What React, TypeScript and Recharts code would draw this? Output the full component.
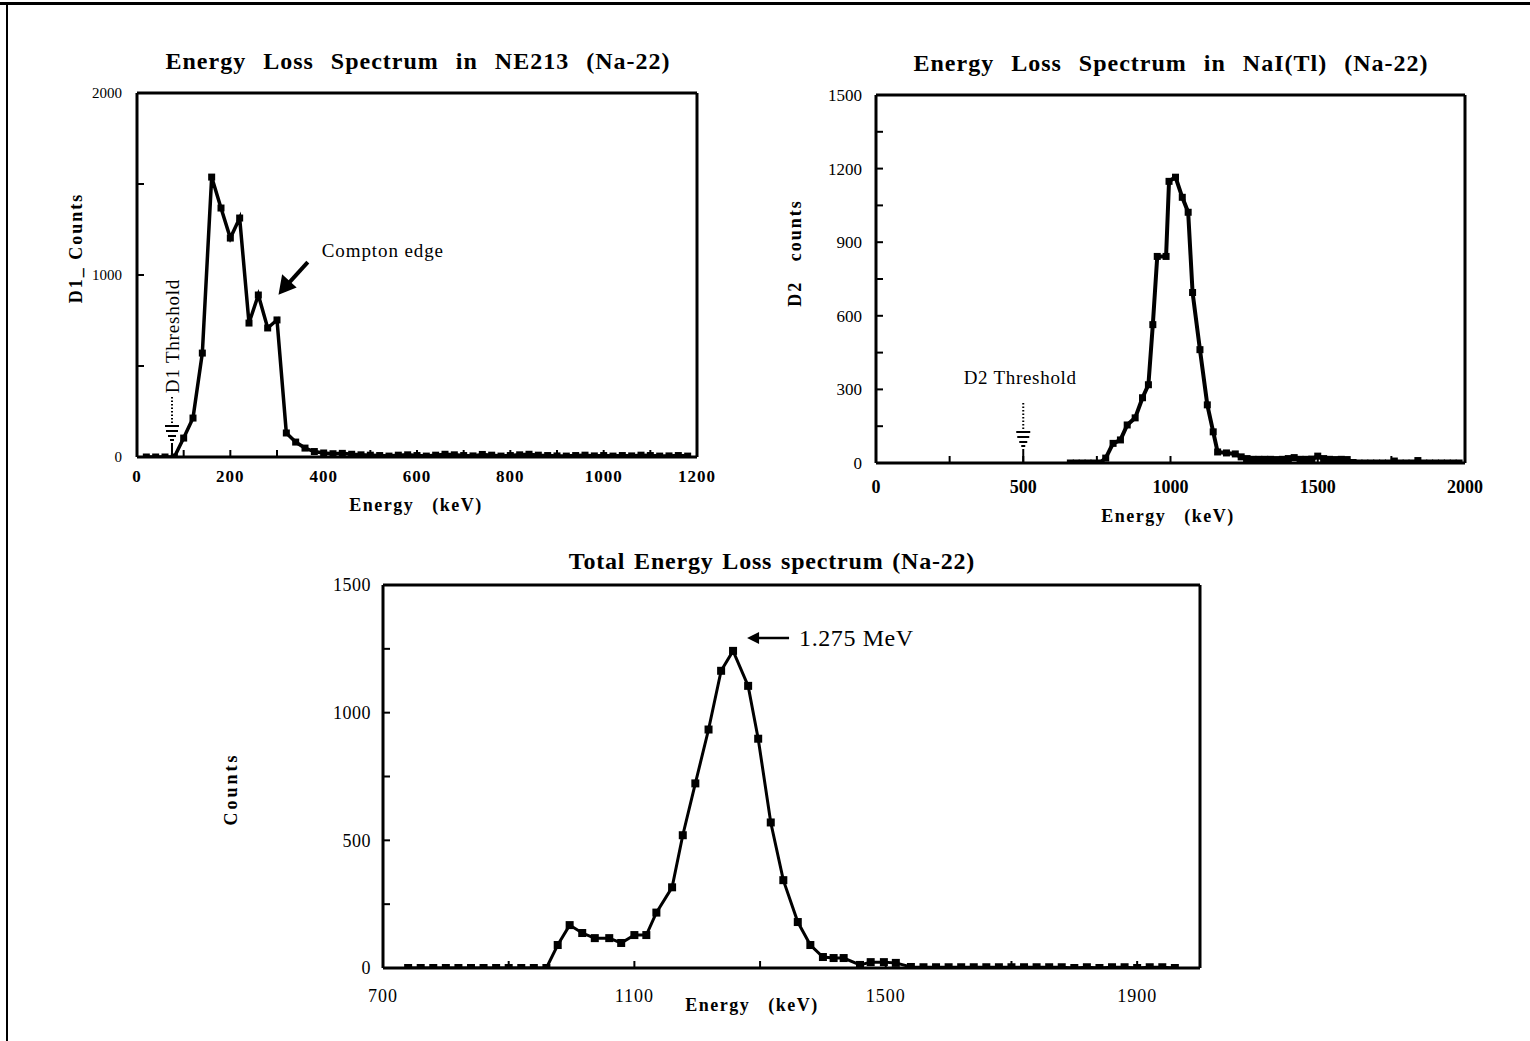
import React from 'react';
import { LineChart, Line, XAxis, YAxis, ReferenceDot } from 'recharts';

const SERIF = '"Liberation Serif", "Times New Roman", Times, serif';

// ---------- Chart 1: NE213 ----------
const ne213Energy = [20, 40, 60, 80, 100, 120, 140, 160, 180, 200, 220, 240, 260, 280, 300, 320, 340, 360,
  380, 400, 420, 440, 460, 480, 500, 520, 540, 560, 580, 600, 620, 640, 660, 680, 700, 720, 740, 760, 780,
  800, 820, 840, 860, 880, 900, 920, 940, 960, 980, 1000, 1020, 1040, 1060, 1080, 1100, 1120, 1140, 1160, 1180];
const ne213Counts = [0, 0, 0, 0, 104, 214, 571, 1538, 1368, 1203, 1313, 736, 890, 709, 753, 132, 82, 49,
  30, 22, 18, 20, 15, 12, 10, 8, 5, 10, 12, 8, 5, 10, 15, 12, 8, 6, 14, 10, 5,
  8, 12, 15, 10, 8, 6, 5, 8, 10, 6, 8, 5, 8, 6, 10, 8, 5, 6, 8, 5];
const ne213XTicks = [0, 100, 200, 300, 400, 500, 600, 700, 800, 900, 1000, 1100, 1200];
const ne213XLabels = [0, 200, 400, 600, 800, 1000, 1200];
const ne213YTicks = [0, 500, 1000, 1500, 2000];
const ne213YLabels = [0, 1000, 2000];

// ---------- Chart 2: NaI(Tl) ----------
const naiEnergy = [660, 680, 700, 720, 740, 760, 780, 805, 830, 853, 880, 905, 925, 940, 955, 985, 995, 1017,
  1040, 1060, 1075, 1100, 1125, 1145, 1160, 1190, 1220, 1240, 1260, 1280, 1300, 1320, 1340, 1360, 1380, 1400,
  1420, 1440, 1460, 1480, 1500, 1520, 1540, 1560, 1580, 1600, 1620, 1640, 1660, 1680, 1700, 1720, 1740, 1760,
  1780, 1800, 1820, 1840, 1860, 1880, 1900, 1920, 1940, 1960, 1980];
const naiCounts = [0, 0, 0, 0, 0, 0, 20, 80, 94, 155, 184, 266, 319, 564, 842, 842, 1148, 1165,
  1083, 1022, 695, 462, 237, 127, 45, 41, 37, 25, 18, 15, 15, 15, 15, 14, 15, 18,
  22, 15, 15, 16, 28, 18, 15, 14, 15, 14, 2, 0, 0, 0, 0, 0, 0, 8,
  0, 0, 0, 10, 0, 0, 0, 0, 0, 0, 0];
const naiXTicks = [0, 250, 500, 750, 1000, 1250, 1500, 1750, 2000];
const naiXLabels = [0, 500, 1000, 1500, 2000];
const naiYTicks = [0, 150, 300, 450, 600, 750, 900, 1050, 1200, 1350, 1500];
const naiYLabels = [0, 300, 600, 900, 1200, 1500];

// ---------- Chart 3: Total ----------
const totEnergy = [740, 760, 780, 800, 820, 840, 860, 880, 900, 920, 940, 960, 978, 997, 1017, 1037, 1060, 1079,
  1100, 1119, 1135, 1160, 1177, 1197, 1218, 1238, 1257, 1281, 1297, 1317, 1337, 1360, 1380, 1400, 1417, 1433,
  1459, 1476, 1497, 1516, 1540, 1560, 1580, 1600, 1620, 1640, 1660, 1680, 1700, 1720, 1740, 1760, 1780, 1800,
  1820, 1840, 1860, 1880, 1900, 1920, 1940, 1960];
const totCounts = [0, 0, 0, 0, 0, 0, 0, 0, 0, 0, 0, 0, 90, 168, 137, 117, 117, 98,
  129, 129, 217, 316, 520, 723, 934, 1164, 1242, 1105, 898, 570, 344, 180, 90, 43, 39, 39,
  12, 23, 23, 20, 4, 3, 3, 3, 3, 3, 3, 3, 3, 3, 3, 3, 3, 0,
  3, 0, 3, 3, 0, 3, 3, 0];
const totXTicks = [700, 900, 1100, 1300, 1500, 1700, 1900];
const totXLabels = [700, 1100, 1500, 1900];
const totYTicks = [0, 250, 500, 750, 1000, 1250, 1500];
const totYLabels = [0, 500, 1000, 1500];

const ne213Data = ne213Energy.map((e, i) => ({ e, v: ne213Counts[i] }));
const naiData = naiEnergy.map((e, i) => ({ e, v: naiCounts[i] }));
const totData = totEnergy.map((e, i) => ({ e, v: totCounts[i] }));

const AXIS_LINE = { stroke: '#000', strokeWidth: 3 };
const TICK_LINE = { stroke: '#000', strokeWidth: 2 };

const squareDot = (size: number) => (p: any) => (
  <rect key={`d-${p.index}`} x={p.cx - size / 2} y={p.cy - size / 2} width={size} height={size} fill="#000" />
);

const fmt = (labels: number[]) => (v: number) => (labels.includes(v) ? String(v) : '');

// Threshold "ground" symbol drawn upward from the axis at (cx, cy)
const thresholdShape = (p: any) => {
  const { cx, cy } = p;
  return (
    <g>
      <line x1={cx} y1={cy - 60} x2={cx} y2={cy - 34} stroke="#000" strokeWidth={2} strokeDasharray="1.5 2" />
      <line x1={cx - 7} y1={cy - 31} x2={cx + 7} y2={cy - 31} stroke="#000" strokeWidth={2} />
      <line x1={cx - 6} y1={cy - 26} x2={cx + 6} y2={cy - 26} stroke="#000" strokeWidth={2} />
      <line x1={cx - 4} y1={cy - 21} x2={cx + 4} y2={cy - 21} stroke="#000" strokeWidth={2} />
      <line x1={cx - 2} y1={cy - 17} x2={cx + 2} y2={cy - 17} stroke="#000" strokeWidth={2} />
      <line x1={cx} y1={cy - 14} x2={cx} y2={cy} stroke="#000" strokeWidth={2} />
    </g>
  );
};

const d1ThresholdShape = (p: any) => {
  const { cx, cy } = p;
  return (
    <g>
      {thresholdShape(p)}
      <text x={cx} y={cy - 121} transform={`rotate(-90 ${cx} ${cy - 121})`} textAnchor="middle" dominantBaseline="central"
        fontFamily={SERIF} fontSize={19} letterSpacing={0.8} fill="#000">D1 Threshold</text>
    </g>
  );
};

const d2ThresholdShape = (p: any) => {
  const { cx, cy } = p;
  return (
    <g>
      {thresholdShape(p)}
      <text x={cx - 3} y={cy - 79} textAnchor="middle" fontFamily={SERIF} fontSize={19} letterSpacing={0.7} fill="#000">D2 Threshold</text>
    </g>
  );
};

const comptonShape = (p: any) => {
  const { cx, cy } = p;
  // arrow tip at (cx, cy), pointing down-left
  return (
    <g>
      <line x1={cx + 8} y1={cy - 9} x2={cx + 28} y2={cy - 31} stroke="#000" strokeWidth={4} />
      <polygon points={`${cx},${cy} ${cx + 3},${cy - 17} ${cx + 15},${cy - 6}`} fill="#000" stroke="#000" strokeWidth={2} />
      <text x={cx + 42} y={cy - 36} fontFamily={SERIF} fontSize={19} letterSpacing={0.9} fill="#000">Compton edge</text>
    </g>
  );
};

const peakShape = (p: any) => {
  const { cx, cy } = p;
  return (
    <g>
      <line x1={cx + 20} y1={cy - 13} x2={cx + 56} y2={cy - 13} stroke="#000" strokeWidth={2.5} />
      <polygon points={`${cx + 14},${cy - 13} ${cx + 26},${cy - 19} ${cx + 26},${cy - 7}`} fill="#000" />
      <text x={cx + 66} y={cy - 5} fontFamily={SERIF} fontSize={24} letterSpacing={0.6} fill="#000">1.275 MeV</text>
    </g>
  );
};

const Txt = ({ x, y, size, weight = 700, rotate = 0, spacing = 0, word = 0, children }: any) => (
  <div
    style={{
      position: 'absolute', left: x, top: y, transform: `translate(-50%, -50%) rotate(${rotate}deg)`,
      fontFamily: SERIF, fontSize: size, fontWeight: weight, letterSpacing: spacing, wordSpacing: word,
      whiteSpace: 'pre', lineHeight: 1, color: '#000',
    }}
  >
    {children}
  </div>
);

const frameAxes = (xTicks: number[], yTicks: number[], xDomain: number[], yDomain: number[]) => [
  <XAxis key="xt" xAxisId="top" orientation="top" type="number" dataKey="e" domain={xDomain} allowDataOverflow
    ticks={xTicks} interval={0} height={1} tickSize={-7} tick={false} axisLine={AXIS_LINE} tickLine={TICK_LINE} />,
  <YAxis key="yr" yAxisId="right" orientation="right" type="number" dataKey="v" domain={yDomain} allowDataOverflow
    ticks={yTicks} interval={0} width={1} tickSize={-7} tick={false} axisLine={AXIS_LINE} tickLine={TICK_LINE} />,
  <Line key="frame-line" xAxisId="top" yAxisId="right" type="linear" dataKey="v" stroke="none" dot={false}
    activeDot={false} legendType="none" isAnimationActive={false} />,
];

export default function App() {
  return (
    <div style={{ position: 'absolute', left: 0, top: 0, width: 1530, height: 1041, background: '#fff', overflow: 'hidden' }}>
      {/* page frame */}
      <div style={{ position: 'absolute', left: 0, top: 2, width: 1530, height: 0, borderTop: '3px solid #000' }} />
      <div style={{ position: 'absolute', left: 6, top: 2, width: 0, height: 1039, borderLeft: '2px solid #000' }} />

      {/* Chart 1 */}
      <div style={{ position: 'absolute', left: 0, top: 0 }}>
        <LineChart width={770} height={540} data={ne213Data} margin={{ top: 92, right: 72, bottom: 43, left: 77 }}>
          <XAxis type="number" dataKey="e" domain={[0, 1200]} allowDataOverflow ticks={ne213XTicks} interval={0}
            tickFormatter={fmt(ne213XLabels)} height={40} tickSize={-7} tickMargin={20}
            axisLine={AXIS_LINE} tickLine={TICK_LINE}
            tick={{ fill: '#000', fontFamily: SERIF, fontSize: 17, fontWeight: 700, letterSpacing: 1 }} />
          <YAxis type="number" dataKey="v" domain={[0, 2000]} allowDataOverflow ticks={ne213YTicks} interval={0}
            tickFormatter={fmt(ne213YLabels)} width={60} tickSize={-7} tickMargin={22}
            axisLine={AXIS_LINE} tickLine={TICK_LINE}
            tick={{ fill: '#000', fontFamily: SERIF, fontSize: 15, fontWeight: 400 }} />
          {frameAxes(ne213XTicks, ne213YTicks, [0, 1200], [0, 2000])}
          <Line type="linear" dataKey="v" stroke="#000" strokeWidth={3.5} dot={squareDot(7)} isAnimationActive={false} />
          <ReferenceDot x={75} y={0} shape={d1ThresholdShape} />
          <ReferenceDot x={306} y={900} shape={comptonShape} />
        </LineChart>
      </div>

      {/* Chart 2 */}
      <div style={{ position: 'absolute', left: 760, top: 0 }}>
        <LineChart width={770} height={540} data={naiData} margin={{ top: 94, right: 64, bottom: 37, left: 56 }}>
          <XAxis type="number" dataKey="e" domain={[0, 2000]} allowDataOverflow ticks={naiXTicks} interval={0}
            tickFormatter={fmt(naiXLabels)} height={40} tickSize={-7} tickMargin={24}
            axisLine={AXIS_LINE} tickLine={TICK_LINE}
            tick={{ fill: '#000', fontFamily: SERIF, fontSize: 18, fontWeight: 700 }} />
          <YAxis type="number" dataKey="v" domain={[0, 1500]} allowDataOverflow ticks={naiYTicks} interval={0}
            tickFormatter={fmt(naiYLabels)} width={60} tickSize={-7} tickMargin={21}
            axisLine={AXIS_LINE} tickLine={TICK_LINE}
            tick={{ fill: '#000', fontFamily: SERIF, fontSize: 17, fontWeight: 400 }} />
          {frameAxes(naiXTicks, naiYTicks, [0, 2000], [0, 1500])}
          <Line type="linear" dataKey="v" stroke="#000" strokeWidth={4} dot={squareDot(7)} isAnimationActive={false} />
          <ReferenceDot x={500} y={0} shape={d2ThresholdShape} />
        </LineChart>
      </div>

      {/* Chart 3 */}
      <div style={{ position: 'absolute', left: 0, top: 530 }}>
        <LineChart width={1300} height={511} data={totData} margin={{ top: 54, right: 99, bottom: 33, left: 323 }}>
          <XAxis type="number" dataKey="e" domain={[700, 2000]} allowDataOverflow ticks={totXTicks} interval={0}
            tickFormatter={fmt(totXLabels)} height={40} tickSize={-7} tickMargin={28}
            axisLine={AXIS_LINE} tickLine={TICK_LINE}
            tick={{ fill: '#000', fontFamily: SERIF, fontSize: 18, fontWeight: 400, letterSpacing: 1 }} />
          <YAxis type="number" dataKey="v" domain={[0, 1500]} allowDataOverflow ticks={totYTicks} interval={0}
            tickFormatter={fmt(totYLabels)} width={60} tickSize={-7} tickMargin={19}
            axisLine={AXIS_LINE} tickLine={TICK_LINE}
            tick={{ fill: '#000', fontFamily: SERIF, fontSize: 18, fontWeight: 400, letterSpacing: 0.5 }} />
          {frameAxes(totXTicks, totYTicks, [700, 2000], [0, 1500])}
          <Line type="linear" dataKey="v" stroke="#000" strokeWidth={3} dot={squareDot(8)} isAnimationActive={false} />
          <ReferenceDot x={1257} y={1242} shape={peakShape} />
        </LineChart>
      </div>

      {/* Titles */}
      <Txt x={418} y={61} size={24} spacing={1} word={10}>Energy Loss Spectrum in NE213 (Na-22)</Txt>
      <Txt x={1171} y={63} size={24} spacing={1} word={10}>Energy Loss Spectrum in NaI(Tl) (Na-22)</Txt>
      <Txt x={772} y={561} size={24} spacing={0.8} word={2}>Total Energy Loss spectrum (Na-22)</Txt>

      {/* Axis titles */}
      <Txt x={76} y={248} size={18} rotate={-90} spacing={2}>{'D1_ Counts'}</Txt>
      <Txt x={416} y={505} size={18} spacing={1.5}>{'Energy   (keV)'}</Txt>
      <Txt x={795} y={253} size={18} rotate={-90} spacing={2}>{'D2   counts'}</Txt>
      <Txt x={1168} y={516} size={18} spacing={1.5}>{'Energy   (keV)'}</Txt>
      <Txt x={231} y={789} size={18} rotate={-90} spacing={3}>Counts</Txt>
      <Txt x={752} y={1005} size={18} spacing={1.5}>{'Energy   (keV)'}</Txt>
    </div>
  );
}
